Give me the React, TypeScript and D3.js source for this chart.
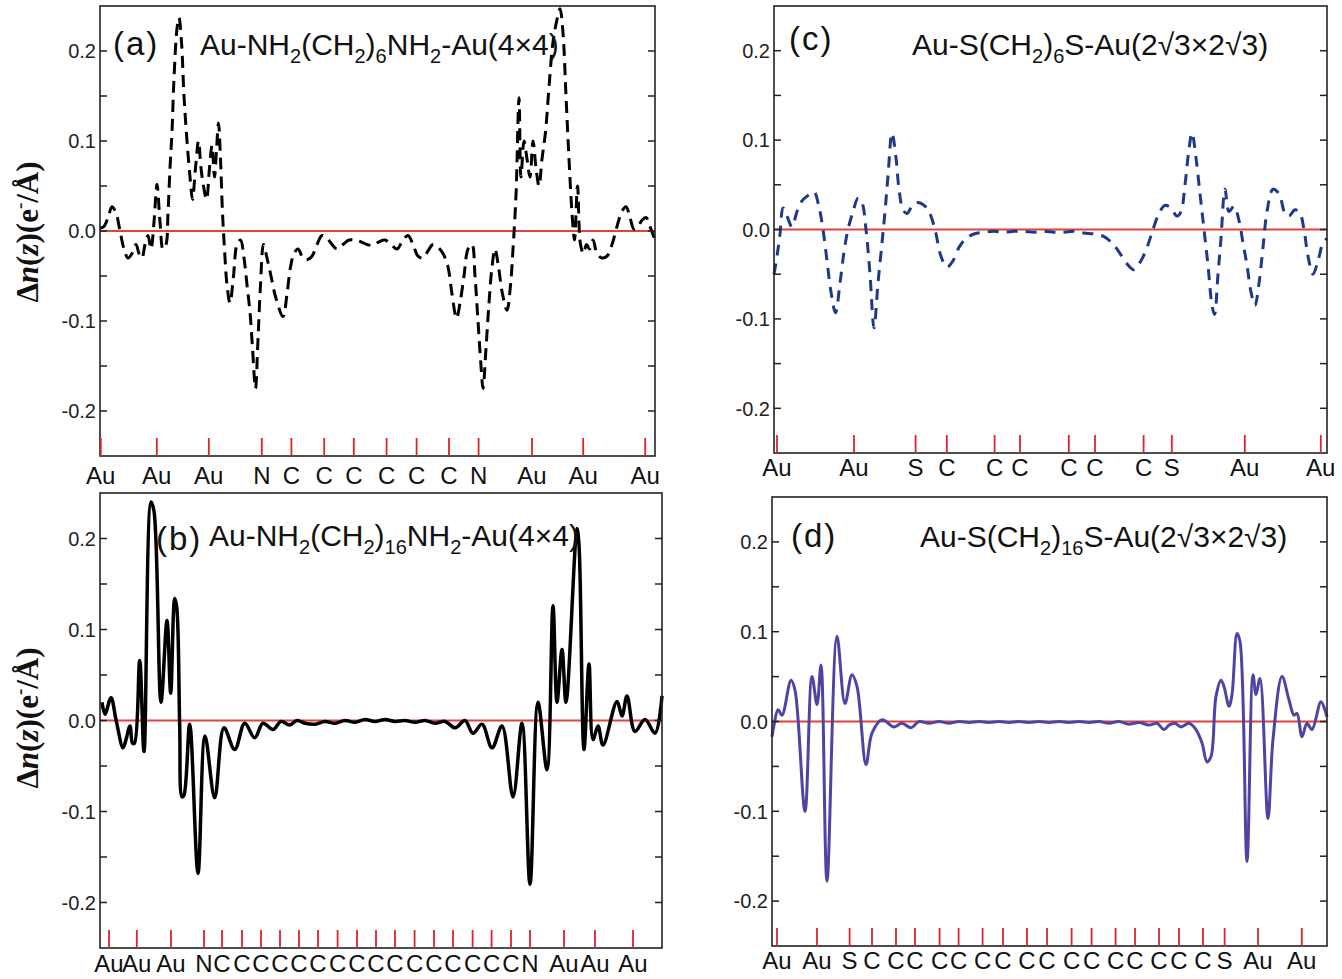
import React from "react";
import * as d3 from "d3";

// ---------- data: [z (Å), Δn(z) (e-/Å)] ----------
const seriesA: [number, number][] = [
  [0, 0.003], [0.2, 0.005], [0.4, 0.015], [0.6, 0.027], [0.8, 0.02], [1.0, 0.0], [1.2, -0.02], [1.4, -0.03], [1.6, -0.025], [1.8, -0.015],
  [1.95, -0.025], [2.1, -0.03], [2.25, -0.015], [2.4, -0.005], [2.55, -0.02], [2.7, 0.01], [2.85, 0.052], [3.0, 0.01], [3.15, -0.02], [3.3, -0.015],
  [3.4, 0.02], [3.5, 0.07], [3.6, 0.11], [3.7, 0.17], [3.85, 0.225], [3.95, 0.237], [4.075, 0.21], [4.2, 0.15], [4.35, 0.1], [4.5, 0.06],
  [4.625, 0.035], [4.775, 0.07], [4.925, 0.1], [5.05, 0.07], [5.175, 0.05], [5.325, 0.035], [5.475, 0.07], [5.6, 0.095], [5.725, 0.06], [5.825, 0.09],
  [5.925, 0.12], [6.025, 0.08], [6.125, 0.02], [6.225, -0.02], [6.35, -0.06], [6.5, -0.08], [6.675, -0.05], [6.85, -0.015], [7.025, -0.01], [7.2, -0.03],
  [7.35, -0.06], [7.5, -0.09], [7.625, -0.13], [7.775, -0.175], [7.9, -0.12], [8.025, -0.06], [8.175, -0.015], [8.35, -0.03], [8.55, -0.05], [8.8, -0.075],
  [9.15, -0.095], [9.35, -0.07], [9.525, -0.04], [9.7, -0.025], [9.9, -0.02], [10.15, -0.03], [10.35, -0.032], [10.6, -0.028], [10.85, -0.015], [11.1, -0.005],
  [11.35, -0.008], [11.6, -0.015], [11.85, -0.02], [12.15, -0.015], [12.45, -0.01], [12.75, -0.01], [13.05, -0.012], [13.35, -0.015], [13.65, -0.016], [13.95, -0.012],
  [14.25, -0.01], [14.55, -0.015], [14.85, -0.02], [15.15, -0.01], [15.4, -0.005], [15.65, -0.015], [15.9, -0.028], [16.15, -0.03], [16.4, -0.022], [16.65, -0.015],
  [16.9, -0.018], [17.15, -0.025], [17.4, -0.04], [17.6, -0.07], [17.825, -0.097], [18.0, -0.08], [18.2, -0.05], [18.4, -0.02], [18.6, -0.015], [18.75, -0.05],
  [18.9, -0.1], [19.05, -0.15], [19.15, -0.175], [19.3, -0.13], [19.45, -0.08], [19.6, -0.04], [19.75, -0.02], [19.925, -0.04], [20.125, -0.07], [20.35, -0.088],
  [20.525, -0.06], [20.65, -0.02], [20.8, 0.04], [20.95, 0.148], [21.05, 0.06], [21.2, 0.1], [21.35, 0.08], [21.5, 0.06], [21.65, 0.1], [21.8, 0.07],
  [21.95, 0.05], [22.1, 0.08], [22.275, 0.11], [22.45, 0.16], [22.65, 0.21], [22.85, 0.235], [23.0, 0.247], [23.15, 0.22], [23.3, 0.15], [23.45, 0.08],
  [23.6, 0.02], [23.725, -0.01], [23.875, 0.05], [24.025, -0.015], [24.175, -0.025], [24.325, -0.015], [24.475, -0.02], [24.65, -0.01], [24.85, -0.025], [25.1, -0.03],
  [25.35, -0.028], [25.6, -0.015], [25.85, 0.005], [26.1, 0.022], [26.3, 0.027], [26.5, 0.015], [26.7, 0.002], [26.9, 0.005], [27.1, 0.012], [27.3, 0.015],
  [27.5, 0.005], [27.75, -0.01],
];

const seriesB: [number, number][] = [
  [0.1, 0.02], [0.25, 0.007], [0.55, 0.025], [0.8, 0.001], [1.15, -0.03], [1.3, -0.021], [1.5, -0.006], [1.625, -0.025], [1.725, -0.025], [1.985, 0.066],
  [2.2, -0.034], [2.55, 0.24], [2.7, 0.23], [3.05, 0.02], [3.35, 0.11], [3.535, 0.03], [3.735, 0.134], [3.835, 0.125], [3.985, -0.006], [4.1, -0.084],
  [4.2, -0.082], [4.485, -0.004], [4.9, -0.168], [5.25, -0.017], [5.735, -0.085], [6.2, -0.008], [6.735, -0.032], [7.235, -0.003], [7.735, -0.019], [8.15, -0.003],
  [8.65, -0.01], [9.05, -0.001], [9.485, -0.005], [9.85, 0.0], [10.25, -0.003], [10.75, -0.004], [11.25, -0.001], [11.75, -0.003], [12.25, 0.0], [12.75, -0.002],
  [13.25, 0.001], [13.75, -0.001], [14.25, 0.001], [14.75, -0.001], [15.25, 0.0], [15.75, -0.002], [16.25, 0.0], [16.75, -0.003], [17.25, -0.001], [17.75, -0.008],
  [18.25, 0.0], [18.65, -0.014], [19.1, -0.004], [19.6, -0.03], [20.1, -0.006], [20.65, -0.084], [21.1, -0.003], [21.5, -0.18], [21.9, 0.02], [22.35, -0.054],
  [22.65, 0.126], [22.85, 0.02], [23.1, 0.078], [23.3, 0.02], [23.85, 0.211], [23.95, 0.193], [24.2, -0.032], [24.45, 0.062], [24.65, -0.021], [24.9, -0.006],
  [25.15, -0.027], [25.85, 0.021], [26.1, 0.005], [26.35, 0.027], [26.75, -0.012], [27.25, 0.001], [27.75, -0.014], [28.1, 0.027],
];

const seriesC: [number, number][] = [
  [0, -0.05], [0.15, -0.03], [0.3, -0.005], [0.45, 0.024], [0.65, 0.015], [0.9, 0.003], [1.15, 0.02], [1.4, 0.032], [1.7, 0.038], [2.0, 0.042],
  [2.25, 0.025], [2.45, 0.0], [2.65, -0.035], [2.85, -0.07], [3.075, -0.093], [3.3, -0.06], [3.5, -0.025], [3.7, 0.0], [3.95, 0.02], [4.2, 0.035],
  [4.4, 0.03], [4.6, 0.0], [4.8, -0.05], [5.0, -0.11], [5.2, -0.06], [5.4, -0.015], [5.55, 0.02], [5.7, 0.06], [5.9, 0.108], [6.1, 0.08],
  [6.25, 0.045], [6.45, 0.022], [6.65, 0.018], [6.9, 0.026], [7.15, 0.03], [7.45, 0.028], [7.75, 0.02], [8.05, 0.0], [8.35, -0.03], [8.65, -0.042],
  [8.95, -0.035], [9.25, -0.02], [9.6, -0.01], [10.0, -0.005], [10.5, -0.003], [11.0, -0.002], [11.5, -0.003], [12.0, -0.002], [12.5, -0.002], [13.0, -0.003],
  [13.5, -0.002], [14.0, -0.003], [14.5, -0.003], [15.0, -0.002], [15.5, -0.004], [16.0, -0.005], [16.5, -0.008], [16.9, -0.015], [17.25, -0.025], [17.6, -0.037],
  [18.0, -0.045], [18.35, -0.035], [18.65, -0.02], [18.95, 0.0], [19.25, 0.018], [19.55, 0.027], [19.85, 0.024], [20.15, 0.015], [20.35, 0.02], [20.55, 0.05],
  [20.75, 0.09], [20.9, 0.108], [21.1, 0.08], [21.3, 0.04], [21.5, 0.0], [21.7, -0.04], [21.9, -0.085], [22.025, -0.095], [22.2, -0.05], [22.35, -0.01],
  [22.55, 0.045], [22.75, 0.02], [23.0, 0.026], [23.25, 0.01], [23.45, -0.015], [23.65, -0.04], [23.85, -0.07], [24.05, -0.085], [24.25, -0.06], [24.45, -0.02],
  [24.65, 0.02], [24.95, 0.045], [25.25, 0.04], [25.55, 0.018], [25.75, 0.015], [26.05, 0.022], [26.3, 0.018], [26.5, 0.0], [26.7, -0.03], [26.95, -0.05],
  [27.2, -0.035], [27.45, -0.015], [27.65, -0.01],
];

const seriesD: [number, number][] = [
  [0, -0.017], [0.1, -0.004], [0.3, 0.013], [0.5, 0.007], [0.95, 0.046], [1.15, 0.035], [1.65, -0.1], [2.0, 0.05], [2.25, 0.019], [2.45, 0.063],
  [2.75, -0.178], [3.25, 0.095], [3.65, 0.02], [4.0, 0.052], [4.25, 0.039], [4.7, -0.048], [5.0, -0.013], [5.5, 0.002], [6.1, -0.006], [6.5, -0.002],
  [6.95, -0.007], [7.35, 0.0], [7.85, -0.002], [8.35, 0.0], [8.85, -0.002], [9.35, 0.0], [9.85, -0.001], [10.35, 0.0], [10.85, -0.001], [11.35, 0.0],
  [11.85, -0.001], [12.35, 0.0], [12.85, -0.001], [13.35, 0.0], [13.85, -0.001], [14.35, 0.0], [14.85, -0.001], [15.35, 0.0], [15.85, -0.001], [16.35, 0.0],
  [16.85, -0.002], [17.35, 0.0], [17.85, -0.003], [18.35, -0.001], [18.85, -0.004], [19.25, -0.002], [19.6, -0.009], [19.85, -0.004], [20.15, -0.002], [20.45, -0.006],
  [20.85, -0.002], [21.2, -0.009], [21.5, -0.024], [21.75, -0.045], [21.95, -0.039], [22.2, 0.028], [22.45, 0.046], [22.6, 0.039], [22.85, 0.017], [23.0, 0.03],
  [23.25, 0.098], [23.4, 0.089], [23.75, -0.156], [24.05, 0.052], [24.2, 0.03], [24.4, 0.048], [24.8, -0.108], [25.05, -0.02], [25.5, 0.05], [25.85, 0.024],
  [26.1, 0.007], [26.25, 0.009], [26.5, -0.017], [26.75, -0.002], [27.0, -0.009], [27.45, 0.022], [27.7, 0.009], [27.75, 0.005],
];

// atom positions (z, Å) and names
const atomsAz = [0.04, 2.84, 5.44, 8.09, 9.57, 11.21, 12.69, 14.33, 15.83, 17.45, 18.93, 21.6, 24.16, 27.26];
const atomsA = ["Au", "Au", "Au", "N", "C", "C", "C", "C", "C", "C", "N", "Au", "Au", "Au"];
const atomsBz = [0.45, 1.84, 3.55, 5.2, 6.1, 7.1, 8.05, 9.0, 9.95, 10.9, 11.88, 12.85, 13.8, 14.75, 15.73, 16.7, 17.65, 18.63, 19.58, 20.55, 21.5, 23.2, 24.75, 26.65];
const atomsB = ["Au", "Au", "Au", "N", "C", "C", "C", "C", "C", "C", "C", "C", "C", "C", "C", "C", "C", "C", "C", "C", "N", "Au", "Au", "Au"];
const atomsCz = [0.15, 4.0, 7.08, 8.64, 11.03, 12.3, 14.74, 16.05, 18.48, 19.89, 23.54, 27.34];
const atomsC = ["Au", "Au", "S", "C", "C", "C", "C", "C", "C", "S", "Au", "Au"];
const atomsDz = [0.25, 2.25, 3.88, 5.0, 6.2, 7.15, 8.38, 9.33, 10.53, 11.55, 12.75, 13.75, 14.98, 15.98, 17.18, 18.15, 19.35, 20.35, 21.55, 22.63, 24.3, 26.49];
const atomsD = ["Au", "Au", "S", "C", "C", "C", "C", "C", "C", "C", "C", "C", "C", "C", "C", "C", "C", "C", "C", "S", "Au", "Au"];

const yMajor = [-0.2, -0.1, 0.0, 0.1, 0.2];
const yMinor = [-0.15, -0.05, 0.05, 0.15];
const yDomain: [number, number] = [-0.25, 0.25];

// title pieces: [text, isSubscript]
const titleA: [string, boolean][] = [["Au-NH", false], ["2", true], ["(CH", false], ["2", true], [")", false], ["6", true], ["NH", false], ["2", true], ["-Au(4×4)", false]];
const titleB: [string, boolean][] = [["Au-NH", false], ["2", true], ["(CH", false], ["2", true], [")", false], ["16", true], ["NH", false], ["2", true], ["-Au(4×4)", false]];
const titleC: [string, boolean][] = [["Au-S(CH", false], ["2", true], [")", false], ["6", true], ["S-Au(2√3×2√3)", false]];
const titleD: [string, boolean][] = [["Au-S(CH", false], ["2", true], [")", false], ["16", true], ["S-Au(2√3×2√3)", false]];

const SANS = "'Liberation Sans', Arial, Helvetica, sans-serif";
const SERIF = "'Liberation Serif', 'Times New Roman', serif";
const fmt = (v: number) => d3.format(".1f")(v).replace("\u2212", "-");

type PanelProps = {
  l: number; r: number; t: number; b: number;
  data: [number, number][];
  atomsZ: number[]; atoms: string[];
  color: string; strokeWidth: number; dash?: string;
  letter: string; letterX: number; letterY: number;
  title: [string, boolean][]; titleX: number; titleY: number;
  labelBaseline: number;
  yTitleY?: number;
};

function Title({ x, y, parts }: { x: number; y: number; parts: [string, boolean][] }) {
  let prevSub = false;
  return (
    <text x={x} y={y} fontFamily={SANS} fontSize={30} fill="#111">
      {parts.map(([t, sub], i) => {
        const dy = sub && !prevSub ? 8 : !sub && prevSub ? -8 : 0;
        prevSub = sub;
        return (
          <tspan key={i} dy={dy} fontSize={sub ? 20 : 30}>{t}</tspan>
        );
      })}
    </text>
  );
}

function Panel(p: PanelProps) {
  const x = d3.scaleLinear().domain([0, (p.r - p.l) / 20]).range([p.l, p.r]);
  const y = d3.scaleLinear().domain(yDomain).range([p.b, p.t]);
  const line = d3
    .line<[number, number]>()
    .x((d) => x(d[0]))
    .y((d) => y(d[1]))
    .curve(d3.curveCatmullRom.alpha(0.5));
  const tickLen = 7;
  return (
    <g>
      {/* zero line */}
      <line x1={p.l} x2={p.r} y1={y(0)} y2={y(0)} stroke="#e3413a" strokeWidth={1.8} />
      {/* curve */}
      <path d={line(p.data) || ""} fill="none" stroke={p.color} strokeWidth={p.strokeWidth}
        strokeDasharray={p.dash} strokeLinejoin="round" />
      {/* frame */}
      <rect x={p.l} y={p.t} width={p.r - p.l} height={p.b - p.t} fill="none" stroke="#222" strokeWidth={1.6} />
      {/* y ticks */}
      {yMajor.concat(yMinor).map((v, i) => (
        <g key={i}>
          <line x1={p.l} x2={p.l + tickLen} y1={y(v)} y2={y(v)} stroke="#222" strokeWidth={1.5} />
          <line x1={p.r} x2={p.r - tickLen} y1={y(v)} y2={y(v)} stroke="#222" strokeWidth={1.5} />
        </g>
      ))}
      {yMajor.map((v, i) => (
        <text key={i} x={p.l - 4} y={y(v)} dy="0.36em" textAnchor="end" fontFamily={SANS} fontSize={20} fill="#222">
          {fmt(v)}
        </text>
      ))}
      {/* atom markers */}
      {p.atomsZ.map((z, i) => (
        <g key={i}>
          <line x1={x(z)} x2={x(z)} y1={p.b} y2={p.b - 18} stroke="#d8262a" strokeWidth={1.8} />
          <text x={x(z)} y={p.labelBaseline} textAnchor="middle" fontFamily={SANS} fontSize={24} fill="#111">
            {p.atoms[i]}
          </text>
        </g>
      ))}
      {/* panel letter & title */}
      <text x={p.letterX} y={p.letterY} fontFamily={SANS} fontSize={33} letterSpacing={2} fill="#111">{p.letter}</text>
      <Title x={p.titleX} y={p.titleY} parts={p.title} />
      {p.yTitleY !== undefined && (
        <text transform={`translate(38,${p.yTitleY}) rotate(-90)`} textAnchor="middle" fontFamily={SERIF}
          fontWeight="bold" fontSize={31} fill="#111">
          <tspan>Δ</tspan>
          <tspan fontStyle="italic">n</tspan>
          <tspan>(</tspan>
          <tspan fontStyle="italic">z</tspan>
          <tspan>)(e</tspan>
          <tspan dy={-12} fontSize={19}>-</tspan>
          <tspan dy={12}>/Å)</tspan>
        </text>
      )}
    </g>
  );
}

export default function App() {
  return (
    <svg width={1342} height={979} viewBox="0 0 1342 979"
      style={{ position: "absolute", left: 0, top: 0, background: "#fff", display: "block" }}>
      <rect x={0} y={0} width={1342} height={979} fill="#fff" />
      <Panel l={100} r={655} t={6} b={456} data={seriesA} atomsZ={atomsAz} atoms={atomsA}
        color="#000" strokeWidth={3} dash="12 7"
        letter="(a)" letterX={113} letterY={55} title={titleA} titleX={200} titleY={55}
        labelBaseline={484} yTitleY={232} />
      <Panel l={100} r={662} t={493} b={948} data={seriesB} atomsZ={atomsBz} atoms={atomsB}
        color="#000" strokeWidth={3.5}
        letter="(b)" letterX={156} letterY={550} title={titleB} titleX={209} titleY={546}
        labelBaseline={972} yTitleY={718} />
      <Panel l={774} r={1327} t={6} b={453} data={seriesC} atomsZ={atomsCz} atoms={atomsC}
        color="#1d3a8a" strokeWidth={3} dash="11 8"
        letter="(c)" letterX={789} letterY={50} title={titleC} titleX={912} titleY={55}
        labelBaseline={476} />
      <Panel l={772} r={1327} t={497} b={946} data={seriesD} atomsZ={atomsDz} atoms={atomsD}
        color="#4d44a3" strokeWidth={3}
        letter="(d)" letterX={791} letterY={547} title={titleD} titleX={920} titleY={547}
        labelBaseline={969} />
    </svg>
  );
}
